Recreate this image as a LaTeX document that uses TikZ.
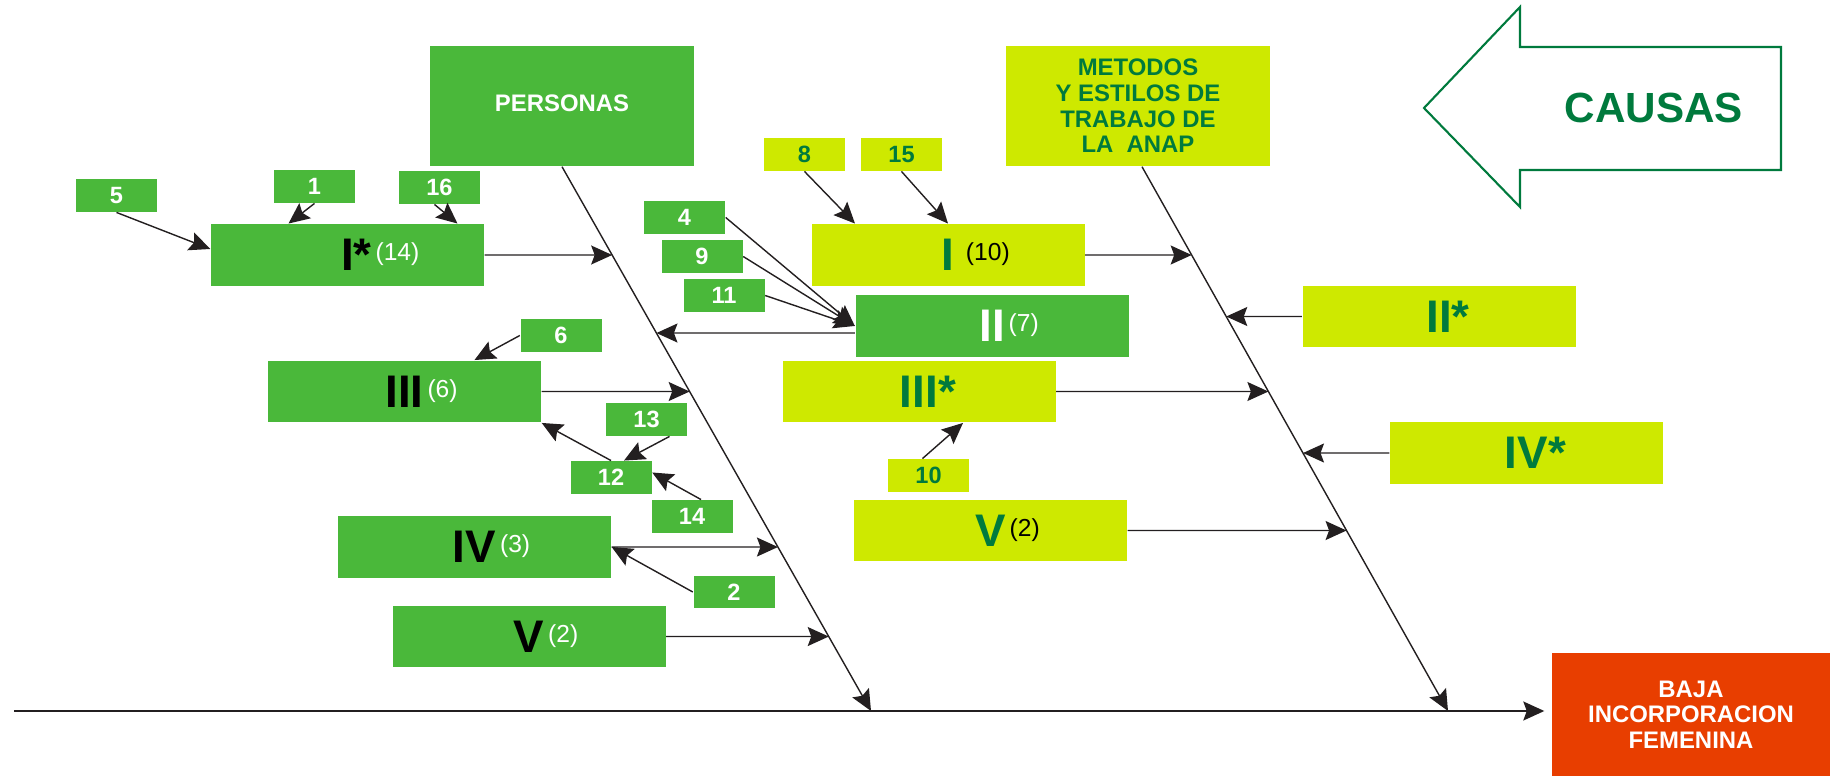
\documentclass[tikz,border=0pt]{standalone}
\usepackage{fontspec}
\setmainfont{Liberation Sans}
\usetikzlibrary{arrows.meta}

\definecolor{boxgreen}{RGB}{74,184,58}
\definecolor{boxlime}{RGB}{206,233,0}
\definecolor{textgreen}{RGB}{0,122,61}
\definecolor{bajared}{RGB}{232,62,0}
\definecolor{ink}{RGB}{35,31,32}
\newcommand\cnt[2]{\hspace{0.4mm}\raisebox{2.9pt}{\color{#1}\fontsize{7}{7}\selectfont\mdseries(#2)}}

\begin{document}
\begin{tikzpicture}[x=0.1mm,y=-0.1mm,>={Stealth[length=2.1mm,width=1.9mm,inset=0.35mm]},
    big/.style={minimum width=27.3mm,minimum height=6.15mm,inner sep=0pt,
        font=\bfseries\fontsize{13}{13}\selectfont},
    num/.style={minimum width=8.1mm,minimum height=3.25mm,inner sep=0pt,
        font=\bfseries\fontsize{6.7}{7}\selectfont},
    grn/.style={fill=boxgreen,text=white},
    lim/.style={fill=boxlime,text=textgreen},
    head/.style={minimum width=26.4mm,minimum height=12mm,inner sep=0pt,align=center,
        font=\bfseries\fontsize{6.8}{7.3}\selectfont},
    link/.style={->,draw=ink,line width=0.4pt}]

    \useasboundingbox (0,0) rectangle (1836,776);

    \draw[textgreen,line width=0.6pt] (1424,108) -- (1520,7) -- (1520,47) -- (1781,47)
        -- (1781,170) -- (1520,170) -- (1520,207) -- cycle;
    \node[text=textgreen,font=\bfseries\fontsize{12}{12}\selectfont] (causas) at (1654,108) {CAUSAS};

    \node[head,grn] (persona) at (562,106) {\raisebox{0.6mm}{PERSONAS}};
    \node[head,lim] (metodo) at (1138,106) {METODOS\\Y ESTILOS DE\\TRABAJO DE\\LA\ \ ANAP};
    \node[head,fill=bajared,text=white,minimum width=27.8mm,minimum height=12.3mm]
        (baja) at (1691,714.5) {BAJA\\INCORPORACION\\FEMENINA};

    \node[big,grn,text=black] (pI) at (347.5,255) {I\rlap{*\cnt{white}{14}}};
    \node[big,grn] (pII) at (992,326) {II\rlap{\cnt{white}{7}}};
    \node[big,grn,text=black] (pIII) at (404.5,391.5) {III\rlap{\cnt{white}{6}}};
    \node[big,grn,text=black] (pIV) at (474.5,547) {IV\rlap{\cnt{white}{3}}};
    \node[big,grn,text=black] (pV) at (529,636.5) {V\rlap{\cnt{white}{2}}};

    \node[big,lim] (mI) at (948,255) {I\rlap{\,\cnt{black}{10}}};
    \node[big,lim] (mII) at (1439,316.5) {II\rlap{*}};
    \node[big,lim] (mIII) at (919,391.5) {III\rlap{*}};
    \node[big,lim] (mIV) at (1526.5,453) {IV\rlap{*}};
    \node[big,lim] (mV) at (990.5,530.5) {V\rlap{\cnt{black}{2}}};

    \node[num,grn] (n5) at (116.5,195.5) {5};
    \node[num,grn] (n1) at (314.5,186.5) {1};
    \node[num,grn] (n16) at (439.5,187.5) {16};
    \node[num,grn] (n4) at (684.5,217.5) {4};
    \node[num,grn] (n9) at (702,256.5) {9};
    \node[num,grn] (n11) at (724,295.5) {11};
    \node[num,lim] (n8) at (804.5,154.5) {8};
    \node[num,lim] (n15) at (901.5,154.5) {15};
    \node[num,grn] (n6) at (561,335.5) {6};
    \node[num,grn] (n13) at (646.5,419.5) {13};
    \node[num,grn] (n12) at (611,477.5) {12};
    \node[num,grn] (n14) at (692,516.5) {14};
    \node[num,grn] (n2) at (734,592) {2};
    \node[num,lim] (n10) at (928.5,475.5) {10};

    \coordinate (tail) at (14,711);
    \coordinate (s1top) at (persona.south);
    \coordinate (s1end) at (871,711);
    \coordinate (s2top) at ([xshift=0.4mm]metodo.south);
    \coordinate (s2end) at (1448,711);
    \coordinate (pIIa) at ([yshift=-0.7mm]pII.west);
    \coordinate (pIIb) at ([yshift=-0.7mm]pII.east);

    \draw[link,line width=0.5pt,shorten >=0.7mm] (tail) -- (tail -| baja.west);
    \draw[link] (s1top) -- (s1end);
    \draw[link] (s2top) -- (s2end);

    \draw[link] (pI.east) -- (intersection of s1top--s1end and pI.east--pI.west);
    \draw[link] (pIIa) -- (intersection of s1top--s1end and pIIa--pIIb);
    \draw[link] (pIII.east) -- (intersection of s1top--s1end and pIII.east--pIII.west);
    \draw[link] (pIV.east) -- (intersection of s1top--s1end and pIV.east--pIV.west);
    \draw[link] (pV.east) -- (intersection of s1top--s1end and pV.east--pV.west);
    \draw[link] (mI.east) -- (intersection of s2top--s2end and mI.east--mI.west);
    \draw[link] (mII.west) -- (intersection of s2top--s2end and mII.east--mII.west);
    \draw[link] (mIII.east) -- (intersection of s2top--s2end and mIII.east--mIII.west);
    \draw[link] (mIV.west) -- (intersection of s2top--s2end and mIV.east--mIV.west);
    \draw[link] (mV.east) -- (intersection of s2top--s2end and mV.east--mV.west);

    \draw[link] (n5.south) -- ([yshift=0.6mm]pI.west);
    \draw[link] (n1.south) -- ([xshift=-5.9mm]pI.north);
    \draw[link] ([xshift=-0.5mm]n16.south) -- ([xshift=11mm]pI.north);
    \draw[link] (n4.east) -- (pII.west);
    \draw[link] (n9.east) -- (pII.west);
    \draw[link] (n11.east) -- (pII.west);
    \draw[link] (n8.south) -- ([xshift=-9.3mm]mI.north);
    \draw[link] (n15.south) -- (mI.north);
    \draw[link] (n6.west) -- ([xshift=7mm]pIII.north);
    \draw[link] ([xshift=2.3mm]n13.south) -- ([xshift=1.3mm]n12.north);
    \draw[link] (n12.north) -- (pIII.south east);
    \draw[link] ([xshift=0.9mm]n14.north) -- ([yshift=0.5mm]n12.east);
    \draw[link] (n2.west) -- (pIV.east);
    \draw[link] ([xshift=-0.6mm]n10.north) -- ([xshift=4.4mm]mIII.south);

\end{tikzpicture}
\end{document}
